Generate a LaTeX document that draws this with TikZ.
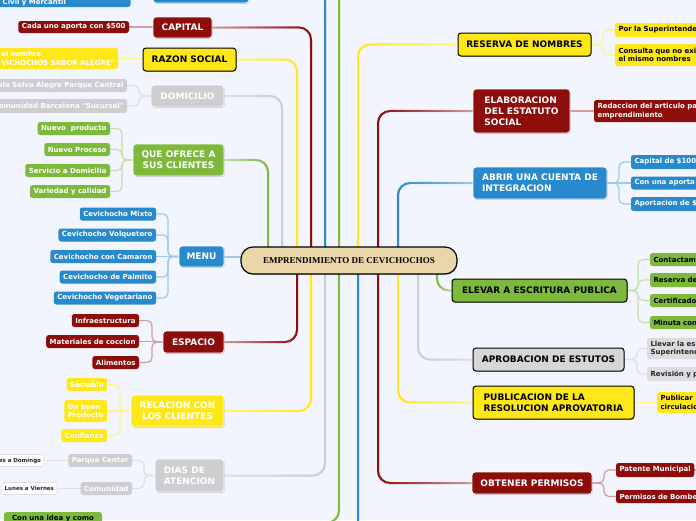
\documentclass[tikz,border=0pt]{standalone}
\usepackage{fontspec}
\newfontfamily\mmfont{DejaVu Sans}
\newfontfamily\cvfont{Liberation Serif}
\usetikzlibrary{shadows,fadings,calc}
\definecolor{bgc}{RGB}{242,245,253}
\definecolor{mred}{RGB}{140,13,10}
\definecolor{myel}{RGB}{255,232,26}
\definecolor{mgrn}{RGB}{125,186,60}
\definecolor{mblu}{RGB}{40,138,205}
\definecolor{mgry}{RGB}{206,206,208}
\definecolor{mgry2}{RGB}{214,214,214}
\definecolor{cgry}{RGB}{221,221,223}
\definecolor{ctan}{RGB}{234,214,168}
\colorlet{pred}{mred!40!white}
\colorlet{pyel}{myel!50!white}
\colorlet{pgrn}{mgrn!45!white}
\colorlet{pblu}{mblu!45!white}
\definecolor{pgry}{RGB}{222,223,230}
\pgfdeclarelayer{bgl}
\pgfdeclarelayer{cnl}
\pgfsetlayers{bgl,cnl,main}
\tikzfading[name=fl, left color=transparent!100, middle color=transparent!75, right color=transparent!0]
\tikzfading[name=fr, left color=transparent!0, middle color=transparent!75, right color=transparent!100]
\tikzset{
  l1/.style={rounded corners=3pt, inner sep=0pt, outer sep=0pt,
    font=\mmfont\bfseries\fontsize{9}{11}\selectfont,
    drop shadow={shadow xshift=0.6pt, shadow yshift=-0.9pt, fill=black, opacity=0.22}},
  l1w/.style={l1, draw=white, line width=0.8pt, text=white},
  l1k/.style={l1, draw=black, line width=1pt, text=black},
  cen/.style={draw=black, line width=1.2pt, fill=ctan, rounded corners=12pt, inner sep=0pt,
    font=\cvfont\bfseries\fontsize{9}{11}\selectfont,
    drop shadow={shadow xshift=0.6pt, shadow yshift=-0.9pt, fill=black, opacity=0.22}},
  ch/.style={rounded corners=2.5pt, inner xsep=3.5pt, inner ysep=0pt, outer sep=0pt,
    minimum height=13pt, font=\mmfont\bfseries\fontsize{7}{8.5}\selectfont},
  chl/.style={ch, anchor=east},
  chr/.style={ch, anchor=west, align=left},
  gch/.style={ch, anchor=east, fill=white, draw=pgry, line width=0.6pt, text=black!85,
    inner xsep=3pt, minimum height=12pt, font=\mmfont\bfseries\fontsize{5.5}{7}\selectfont},
  brL/.style 2 args={line width=2pt, rounded corners=12pt, draw=#1, postaction={draw=#2, path fading=fl}},
  brR/.style 2 args={line width=2pt, rounded corners=12pt, draw=#1, postaction={draw=#2, path fading=fr}},
  chc/.style={line width=1.2pt, rounded corners=5pt, draw=#1},
}
\begin{document}
\begin{tikzpicture}[x=1pt, y=-1pt]
\useasboundingbox (0,0) rectangle (696,520);
\begin{pgfonlayer}{bgl}
\fill[bgc] (0,0) rectangle (696,520);
\end{pgfonlayer}

% central node
\node[cen, minimum width=216pt, minimum height=27pt] (cn) at (349,260.5) {EMPRENDIMIENTO DE CEVICHOCHOS};
\foreach \n/\d in {268/-81, 282/-67, 297/-52, 311/-38, 325/-24, 339/-10, 358/9, 378/29, 398/49, 418/69, 437/88}
  \coordinate (c\n) at ([xshift=\d pt]cn.center);
\coordinate (gtop) at (300,-40);
\coordinate (bbot) at (400,560);
\coordinate (pmx) at (730,470);

% left main nodes
\node[l1w, fill=mblu, minimum width=96pt, minimum height=28pt] (bluetop) at (201,-11) {};
\node[l1w, fill=mred, minimum width=59pt, minimum height=21pt] (capital) at (182.5,27.5) {CAPITAL};
\node[l1k, fill=myel, minimum width=93pt, minimum height=23pt] (razon) at (189.5,59.5) {RAZON SOCIAL};
\node[l1w, fill=mgry, minimum width=73pt, minimum height=22pt] (domicilio) at (187.5,96) {DOMICILIO};
\node[l1w, fill=mgrn, minimum width=91pt, minimum height=32pt, align=center] (ofrece) at (178.5,160) {QUE OFRECE A\\SUS CLIENTES};
\node[l1w, fill=mblu, minimum width=45pt, minimum height=21pt] (menu) at (201.5,256.5) {MENU};
\node[l1w, fill=mred, minimum width=61pt, minimum height=22pt] (espacio) at (193.5,342) {ESPACIO};
\node[l1w, fill=myel, minimum width=93pt, minimum height=32pt, align=center] (relacion) at (177.5,411) {RELACION CON\\LOS CLIENTES};
\node[l1w, fill=mgry, minimum width=69pt, minimum height=33pt, align=left] (dias) at (189.5,475.5) {DIAS DE\\ATENCION};

% right main nodes
\node[l1k, fill=myel, minimum width=133pt, minimum height=23pt] (reserva) at (524.5,44.5) {RESERVA DE NOMBRES};
\node[l1w, fill=mred, minimum width=97pt, minimum height=44pt, align=left] (elab) at (521.5,111) {ELABORACION\\DEL ESTATUTO\\SOCIAL};
\node[l1w, fill=mblu, minimum width=134pt, minimum height=32pt, align=left] (abrir) at (540,183) {ABRIR UNA CUENTA DE\\INTEGRACION};
\node[l1k, fill=mgrn, minimum width=175pt, minimum height=23pt] (elevar) at (539.5,290.5) {ELEVAR A ESCRITURA PUBLICA};
\node[l1k, fill=mgry2, minimum width=151pt, minimum height=23pt] (aprob) at (548.5,359.5) {APROBACION DE ESTUTOS};
\node[l1k, fill=myel, minimum width=161pt, minimum height=33pt, align=left] (publ) at (553.5,402.5) {PUBLICACION DE LA\\RESOLUCION APROVATORIA};
\node[l1w, fill=mred, minimum width=120pt, minimum height=22pt] (obtener) at (532,483) {OBTENER PERMISOS};

% left children
\node[ch, fill=mblu, text=white, anchor=base west, text width=122pt, align=left, inner xsep=6pt,
  text height=20pt, text depth=2.5pt, rounded corners=3pt] (civil) at (-3.3,4.5) {Civil y Mercantil};
\node[chl, fill=mred, text=white, minimum height=12pt] (capc) at (129,27) {Cada uno aporta con \$500};
\node[chl, fill=myel, text=white, minimum height=21pt, align=left] (razc) at (118,58.5) {el nombre\\VICHOCHOS SABOR ALEGRE"};
\node[chl, fill=mgry, text=white] (dom1) at (127,85.5) {ula Selva Alegre Parque Central};
\node[chl, fill=mgry, text=white, minimum height=14pt] (dom2) at (127,106) {omunidad Barcelona "Sucursal"};
\node[chl, fill=mgrn, text=white] (q1) at (110,128.5) {Nuevo\ \ producto};
\node[chl, fill=mgrn, text=white] (q2) at (110,149.5) {Nuevo Proceso};
\node[chl, fill=mgrn, text=white] (q3) at (110,170.5) {Servicio a Domicilio};
\node[chl, fill=mgrn, text=white] (q4) at (110,191.5) {Variedad y calidad};
\node[chl, fill=mblu, text=white] (m1) at (156,214) {Cevichocho Mixto};
\node[chl, fill=mblu, text=white] (m2) at (156,235) {Cevichocho Volquetero};
\node[chl, fill=mblu, text=white] (m3) at (156,256.5) {Cevichocho con Camaron};
\node[chl, fill=mblu, text=white] (m4) at (156,277) {Cevichocho de Palmito};
\node[chl, fill=mblu, text=white] (m5) at (156,298) {Cevichocho Vegetariano};
\node[chl, fill=mred, text=white] (e1) at (139,320.5) {Infraestructura};
\node[chl, fill=mred, text=white] (e2) at (139,341.5) {Materiales de coccion};
\node[chl, fill=mred, text=white] (e3) at (139,362.5) {Alimentos};
\node[chl, fill=myel, text=white] (r1) at (107,384.5) {Sociable};
\node[chl, fill=myel, text=white, minimum height=22pt, align=left] (r2) at (107,411) {Un buen\\Producto};
\node[chl, fill=myel, text=white] (r3) at (107,435.5) {Confianza};
\node[chl, fill=mgry, text=white] (d1) at (132,460.5) {Parque Centar};
\node[chl, fill=mgry, text=white] (d2) at (132,488.5) {Comunidad};
\node[gch] (dd1) at (44,460.5) {es a Domingo};
\node[gch] (dd2) at (57,488.5) {Lunes a Viernes};
\node[ch, fill=mgrn, text=black, anchor=north west, minimum width=98pt, inner ysep=3pt,
  text depth=10pt, rounded corners=3pt] (idea) at (4,512) {Con una idea y como};

% right children
\node[chr, fill=myel, text=black, text width=100pt, minimum height=14pt] (rs1) at (615,30) {Por la Superintende};
\node[chr, fill=myel, text=black, text width=100pt, minimum height=22pt] (rs2) at (615,55) {Consulta que no exi\\el mismo nombres};
\node[chr, fill=mred, text=white, text width=120pt, minimum height=22pt] (elabc) at (594,111) {Redaccion del articulo pa\\emprendimiento};
\node[chr, fill=mblu, text=white, text width=90pt, minimum height=14pt] (a1) at (631,162) {Capital de \$100};
\node[chr, fill=mblu, text=white, text width=90pt] (a2) at (631,183) {Con una aporta};
\node[chr, fill=mblu, text=white, text width=90pt, minimum height=14pt] (a3) at (631,204) {Aportacion de \$};
\node[chr, fill=mgrn, text=black, text width=70pt] (ev1) at (650,259.5) {Contactam};
\node[chr, fill=mgrn, text=black, text width=70pt, minimum height=14pt] (ev2) at (650,280) {Reserva de};
\node[chr, fill=mgrn, text=black, text width=70pt] (ev3) at (650,300.5) {Certificado};
\node[chr, fill=mgrn, text=black, text width=70pt] (ev4) at (650,322.5) {Minuta con};
\node[chr, fill=cgry, text=black!85, text width=70pt, minimum height=21pt] (ap1) at (647,348.5) {Llevar la es\\Superintend};
\node[chr, fill=cgry, text=black!85, text width=70pt, minimum height=14pt] (ap2) at (647,374) {Revisión y p};
\node[chr, fill=myel, text=black, text width=70pt, minimum height=21pt] (pb1) at (657,402.5) {Publicar\\circulacio};
\node[ch, anchor=west, fill=mred, text=white, minimum height=14pt] (ob1) at (616,470) {Patente Municipal};
\node[chr, fill=mred, text=white, text width=100pt] (ob2) at (616,496.5) {Permisos de Bombe};

% connectors
\begin{pgfonlayer}{cnl}
\draw[brL={pblu}{mblu}] (bluetop.east) -| (c325);
\draw[brL={pgrn}{mgrn}] (gtop) -| (c339);
\draw[brL={pred}{mred}] (capital.east) -| (c311);
\draw[brL={pyel}{myel}] (razon.east) -| (c297);
\draw[brL={pgry}{mgry}] (domicilio.east) -| (c282);
\draw[brL={pgrn}{mgrn}] (ofrece.east) -| (c268);
\draw[line width=2pt, draw=pblu] (menu.east) -- (menu.east -| cn.center);
\draw[brL={pred}{mred}] (espacio.east) -| (c297);
\draw[brL={pyel}{myel}] (relacion.east) -| (c311);
\draw[brL={pgry}{mgry}] (dias.east) -| (c325);
\draw[brL={pgrn}{mgrn}] (idea.east) -| (c339);

\draw[brR={pyel}{myel}] (reserva.west) -| (c358);
\draw[brR={pred}{mred}] (elab.west) -| (c378);
\draw[brR={pblu}{mblu}] (abrir.west) -| (c398);
\draw[brR={pgrn}{mgrn}] (elevar.west) -| (c437);
\draw[brR={pgry}{mgry}] (aprob.west) -| (c418);
\draw[brR={pyel}{myel}] (publ.west) -| (c398);
\draw[brR={pred}{mred}] (obtener.west) -| (c378);
\draw[brR={pblu}{mblu}] (bbot) -| (c358);

% child connectors, left
\draw[chc=pblu] (civil.east) -- (civil.east -| bluetop.west);
\draw[chc=pred] (capc.east) -- (capc.east -| capital.west);
\draw[chc=pyel] (razc.east) -- (razc.east -| razon.west);
\coordinate (dsp) at ([xshift=-12pt]domicilio.west);
\foreach \c in {dom1,dom2} \draw[chc=pgry] (\c.east) -| (dsp) -- (domicilio.west);
\coordinate (qsp) at ([xshift=-11pt]ofrece.west);
\foreach \c in {q1,q2,q3,q4} \draw[chc=pgrn] (\c.east) -| (qsp) -- (ofrece.west);
\coordinate (msp) at ([xshift=-11pt]menu.west);
\foreach \c in {m1,m2,m4,m5} \draw[chc=pblu] (\c.east) -| (msp) -- (menu.west);
\draw[chc=pblu] (m3.east) -- (menu.west);
\coordinate (esp) at ([xshift=-11pt]espacio.west);
\foreach \c in {e1,e3} \draw[chc=pred] (\c.east) -| (esp) -- (espacio.west);
\draw[chc=pred] (e2.east) -- (e2.east -| espacio.west);
\coordinate (rsl) at ([xshift=-11pt]relacion.west);
\foreach \c in {r1,r3} \draw[chc=pyel] (\c.east) -| (rsl) -- (relacion.west);
\draw[chc=pyel] (r2.east) -- (relacion.west);
\coordinate (dasp) at ([xshift=-11pt]dias.west);
\foreach \c in {d1,d2} \draw[chc=pgry] (\c.east) -| (dasp) -- (dias.west);
\draw[chc=pgry] (dd1.east) -- (dd1.east -| d1.west);
\draw[chc=pgry] (dd2.east) -- (dd2.east -| d2.west);

% child connectors, right
\coordinate (rsp) at ([xshift=12pt]reserva.east);
\foreach \c in {rs1,rs2} \draw[chc=pyel] (\c.west) -| (rsp) -- (reserva.east);
\draw[chc=pred] (elab.east) -- (elab.east -| elabc.west);
\coordinate (asp) at ([xshift=12pt]abrir.east);
\foreach \c in {a1,a3} \draw[chc=pblu] (\c.west) -| (asp) -- (abrir.east);
\draw[chc=pblu] (a2.west) -- (abrir.east);
\coordinate (evsp) at ([xshift=11pt]elevar.east);
\foreach \c in {ev1,ev2,ev3,ev4} \draw[chc=pgrn] (\c.west) -| (evsp) -- (elevar.east);
\coordinate (apsp) at ([xshift=13pt]aprob.east);
\foreach \c in {ap1,ap2} \draw[chc=pgry] (\c.west) -| (apsp) -- (aprob.east);
\draw[chc=pyel] (publ.east) -- (publ.east -| pb1.west);
\coordinate (obsp) at ([xshift=12pt]obtener.east);
\foreach \c in {ob1,ob2} \draw[chc=pred] (\c.west) -| (obsp) -- (obtener.east);
\draw[chc=pred] (ob1.east) -- (pmx);
\end{pgfonlayer}
\end{tikzpicture}
\end{document}
